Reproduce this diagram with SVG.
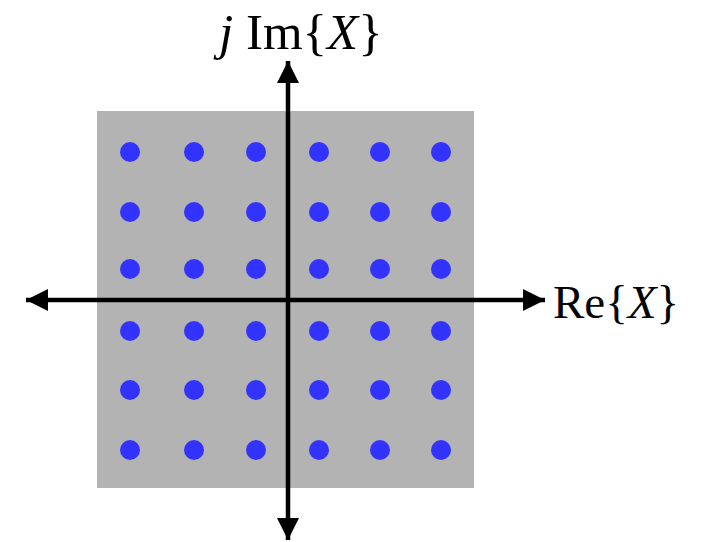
<svg xmlns="http://www.w3.org/2000/svg" width="710" height="542" viewBox="0 0 710 542">
<defs>
<style>
.dot{fill:#3333ff}
.axis{stroke:#000;stroke-width:4.5;fill:none}
.lbl{font-family:"Liberation Serif","DejaVu Serif",serif;fill:#000}
</style>
<marker id="ah" markerUnits="userSpaceOnUse" markerWidth="24" markerHeight="24" viewBox="0 0 24 24" refX="22" refY="12" orient="auto">
<path d="M0,1 L22,12 L0,23 Z" fill="#000"/>
</marker>
</defs>
<rect width="710" height="542" fill="#fff"/>
<g id="plane"><rect x="97" y="111" width="377" height="377" fill="#b3b3b3"/></g>
<g id="points">
<g id="row1"><circle class="dot" cx="130" cy="152" r="10"/><circle class="dot" cx="194" cy="152" r="10"/><circle class="dot" cx="256" cy="152" r="10"/><circle class="dot" cx="319" cy="152" r="10"/><circle class="dot" cx="380" cy="152" r="10"/><circle class="dot" cx="441" cy="152" r="10"/></g>
<g id="row2"><circle class="dot" cx="130" cy="212" r="10"/><circle class="dot" cx="194" cy="212" r="10"/><circle class="dot" cx="256" cy="212" r="10"/><circle class="dot" cx="319" cy="212" r="10"/><circle class="dot" cx="380" cy="212" r="10"/><circle class="dot" cx="441" cy="212" r="10"/></g>
<g id="row3"><circle class="dot" cx="130" cy="269" r="10"/><circle class="dot" cx="194" cy="269" r="10"/><circle class="dot" cx="256" cy="269" r="10"/><circle class="dot" cx="319" cy="269" r="10"/><circle class="dot" cx="380" cy="269" r="10"/><circle class="dot" cx="441" cy="269" r="10"/></g>
<g id="row4"><circle class="dot" cx="130" cy="331" r="10"/><circle class="dot" cx="194" cy="331" r="10"/><circle class="dot" cx="256" cy="331" r="10"/><circle class="dot" cx="319" cy="331" r="10"/><circle class="dot" cx="380" cy="331" r="10"/><circle class="dot" cx="441" cy="331" r="10"/></g>
<g id="row5"><circle class="dot" cx="130" cy="390" r="10"/><circle class="dot" cx="194" cy="390" r="10"/><circle class="dot" cx="256" cy="390" r="10"/><circle class="dot" cx="319" cy="390" r="10"/><circle class="dot" cx="380" cy="390" r="10"/><circle class="dot" cx="441" cy="390" r="10"/></g>
<g id="row6"><circle class="dot" cx="130" cy="450" r="10"/><circle class="dot" cx="194" cy="450" r="10"/><circle class="dot" cx="256" cy="450" r="10"/><circle class="dot" cx="319" cy="450" r="10"/><circle class="dot" cx="380" cy="450" r="10"/><circle class="dot" cx="441" cy="450" r="10"/></g>
</g>
<g id="connectors">
<line class="axis" x1="288" y1="300" x2="288" y2="61" marker-end="url(#ah)"/>
<line class="axis" x1="288" y1="300" x2="288" y2="540" marker-end="url(#ah)"/>
<line class="axis" x1="288" y1="300" x2="545" y2="300" marker-end="url(#ah)"/>
<line class="axis" x1="288" y1="300" x2="26" y2="300" marker-end="url(#ah)"/>
</g>
<g id="labels">
<text class="lbl" x="219" y="49" style="font-size:51px"><tspan font-style="italic">j</tspan> Im{<tspan font-style="italic">X</tspan>}</text>
<text class="lbl" x="553" y="318" style="font-size:47px">Re{<tspan font-style="italic">X</tspan>}</text>
</g>
</svg>
